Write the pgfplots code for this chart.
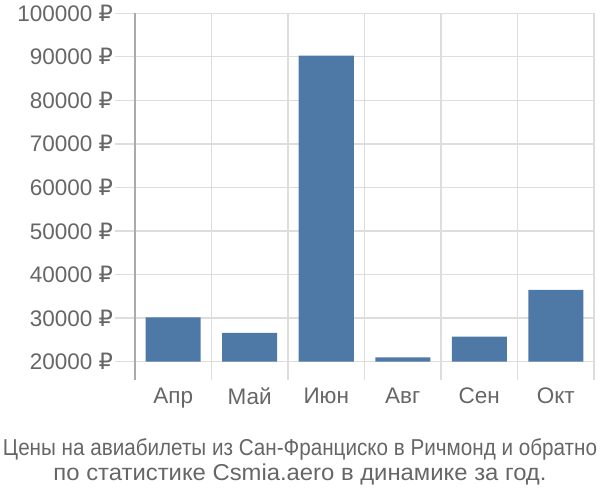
\documentclass[border=0pt]{standalone}
\usepackage{pgfplots}
\pgfplotsset{compat=1.18}
\usepackage{pgfplotstable}
\usepackage{fontspec}
\setmainfont{Liberation Sans}
\newfontfamily\rubfont{DejaVu Sans}
\newcommand{\rub}{{\rubfont ₽}}
\usepackage{graphicx}
\definecolor{barblue}{HTML}{4E79A7}
\definecolor{gridgray}{HTML}{DDDDDD}
\definecolor{axisgray}{HTML}{AAAAAA}
\definecolor{txt}{HTML}{666666}
\pgfplotstableread{
idx price
0 30150
1 26560
2 90300
3 20970
4 25700
5 36440
}\prices
\begin{document}
\begin{tikzpicture}
\path[use as bounding box] (-135bp,-120bp) rectangle (465bp,380bp);
\begin{axis}[
  at={(0bp,0bp)}, anchor=south west,
  scale only axis, width=459bp, height=366.7bp,
  xmin=-0.5, xmax=5.5, ymin=15750, ymax=100000,
  scaled y ticks=false,
  ybar stacked, bar width=55bp,
  axis x line*=bottom, axis y line*=left,
  x axis line style={draw=none},
  y axis line style={axisgray, line width=1.5bp},
  xtick={0,...,5}, xticklabels={Апр,Май,Июн,Авг,Сен,Окт},
  minor xtick={-0.5,0.5,...,5.5},
  xminorgrids, ymajorgrids,
  major grid style={gridgray, line width=1.3bp},
  minor grid style={gridgray, line width=1.3bp},
  xtick style={draw=none},
  ytick style={gridgray, line width=1.3bp},
  tick align=outside, major tick length=20bp,
  ytick={20000,30000,...,100000},
  yticklabels={20000 \rub,30000 \rub,40000 \rub,50000 \rub,60000 \rub,70000 \rub,80000 \rub,90000 \rub,100000 \rub},
  tick label style={font=\fontsize{22.5bp}{25bp}\selectfont, text=txt},
  xticklabel style={yshift=16bp},
  yticklabel style={xshift=1.5bp},
]
\addplot[draw=none, fill=none, forget plot] table[x=idx, y expr=20000] \prices;
\addplot[fill=barblue, draw=none] table[x=idx, y expr=\thisrow{price}-20000] \prices;
\end{axis}
\node[txt, inner sep=0pt] at (165bp,-69bp) {\resizebox{594bp}{\height}{\fontsize{23bp}{26bp}\selectfont Цены на авиабилеты из Сан-Франциско в Ричмонд и обратно}};
\node[txt, inner sep=0pt] at (165bp,-94bp) {\resizebox{493bp}{\height}{\fontsize{23bp}{26bp}\selectfont по статистике Csmia.aero в динамике за год.}};
\end{tikzpicture}
\end{document}
